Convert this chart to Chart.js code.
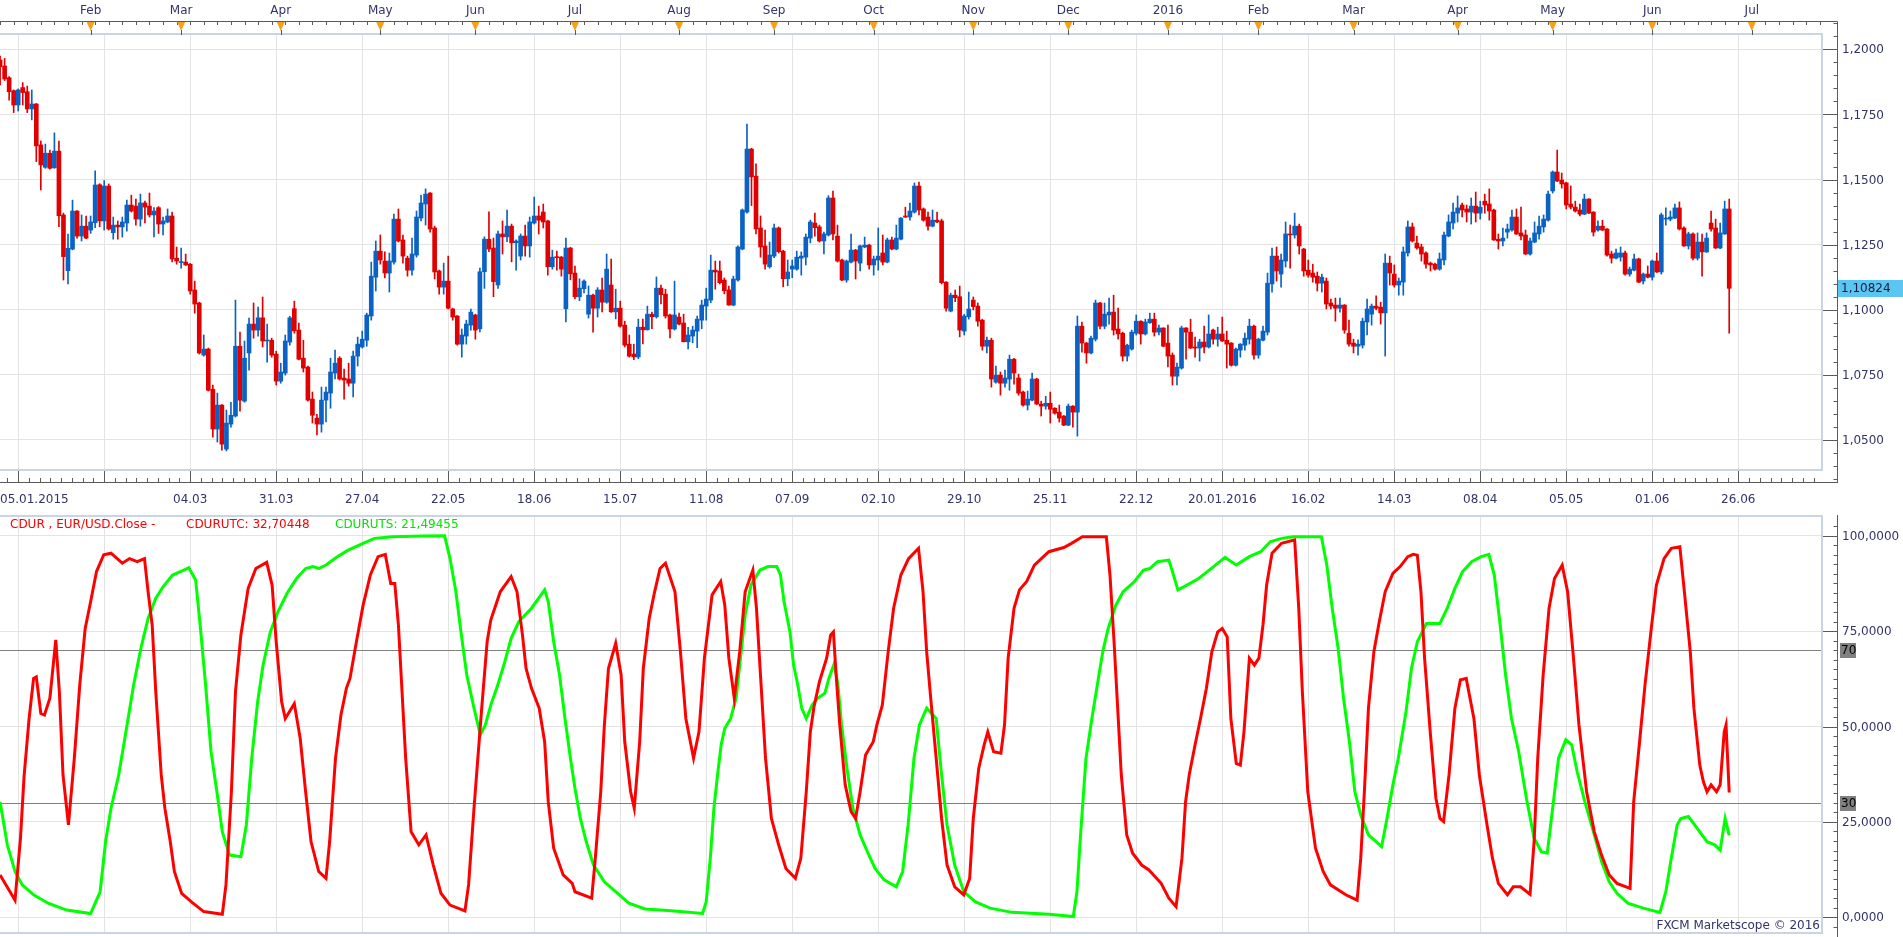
<!DOCTYPE html>
<html>
<head>
<meta charset="utf-8">
<script src="https://cdn.jsdelivr.net/npm/chart.js@4.4.0/dist/chart.umd.min.js"></script>
<style>
  body { margin: 0; background: #fff; overflow: hidden; }
  canvas { position: absolute; left: 0; }
</style>
</head>
<body>
<canvas id="upper" width="1903" height="515" style="top:0"></canvas>
<canvas id="lower" width="1903" height="422" style="top:515px"></canvas>
<script>
// EUR/USD daily candles, 05.01.2015 .. 24.06.2016 (bar index 0..382)
const opens = [
1.1959,1.1936,1.1891,1.1841,1.1786,1.1853,1.1837,1.1771,1.1790,1.1633,
1.1547,1.1601,1.1545,1.1609,1.1364,1.1150,1.1233,1.1379,1.1283,1.1321,
1.1306,1.1334,1.1480,1.1341,1.1475,1.1296,1.1325,1.1318,1.1333,1.1402,
1.1398,1.1348,1.1410,1.1398,1.1364,1.1392,1.1329,1.1337,1.1360,1.1198,
1.1181,1.1183,1.1175,1.1076,1.1026,1.0826,1.0849,1.0695,1.0542,1.0634,
1.0465,1.0561,1.0592,1.0860,1.0649,1.0834,1.0945,1.0922,1.0969,1.0880,
1.0883,1.0830,1.0726,1.0757,1.0876,1.1004,1.0922,1.0814,1.0780,1.0657,
1.0584,1.0561,1.0653,1.0680,1.0757,1.0814,1.0738,1.0734,1.0718,1.0822,
1.0857,1.0883,1.0976,1.1125,1.1225,1.1187,1.1141,1.1183,1.1348,1.1268,
1.1198,1.1152,1.1210,1.1352,1.1406,1.1448,1.1314,1.1149,1.1087,1.1110,
1.1003,1.0976,1.0868,1.0899,1.0941,1.0980,1.0927,1.1146,1.1271,1.1237,
1.1095,1.1291,1.1280,1.1321,1.1257,1.1206,1.1283,1.1245,1.1333,1.1360,
1.1375,1.1341,1.1165,1.1202,1.1202,1.1004,1.1237,1.1141,1.1050,1.1081,
1.0983,1.1056,1.1006,1.1076,1.1029,1.1095,1.0992,1.1006,1.0941,1.0868,
1.0830,1.0819,1.0933,1.0923,1.0983,1.0973,1.1083,1.1060,1.0980,1.0926,
1.0972,1.0949,1.0877,1.0899,1.0918,1.0960,1.1014,1.1037,1.1152,1.1149,
1.1114,1.1076,1.1018,1.1114,1.1233,1.1375,1.1617,1.1513,1.1314,1.1245,
1.1165,1.1206,1.1314,1.1225,1.1119,1.1156,1.1156,1.1198,1.1202,1.1275,
1.1333,1.1318,1.1264,1.1287,1.1429,1.1283,1.1191,1.1114,1.1183,1.1229,
1.1179,1.1241,1.1248,1.1172,1.1191,1.1218,1.1183,1.1268,1.1233,1.1271,
1.1360,1.1356,1.1375,1.1475,1.1387,1.1356,1.1321,1.1344,1.1341,1.1106,
1.0995,1.1056,1.1050,1.0918,1.0973,1.1037,1.1014,1.0960,1.0860,1.0883,
1.0722,1.0749,1.0718,1.0734,1.0810,1.0738,1.0684,1.0634,1.0653,1.0734,
1.0638,1.0630,1.0641,1.0622,1.0607,1.0592,1.0557,1.0630,1.0607,1.0937,
1.0872,1.0834,1.0887,1.1026,1.0937,1.0980,1.0991,1.0926,1.0910,1.0822,
1.0849,1.0910,1.0956,1.0907,1.0950,1.0964,1.0914,1.0930,1.0872,1.0826,
1.0745,1.0776,1.0930,1.0914,1.0857,1.0853,1.0876,1.0857,1.0922,1.0887,
1.0907,1.0883,1.0872,1.0787,1.0845,1.0864,1.0887,1.0937,1.0826,1.0883,
1.0914,1.1099,1.1206,1.1137,1.1187,1.1291,1.1287,1.1321,1.1233,1.1152,
1.1141,1.1129,1.1102,1.1110,1.1026,1.1018,1.1006,1.1018,1.0910,1.0872,
1.0860,1.0864,1.0953,1.0983,1.1014,1.1010,1.0988,1.1179,1.1137,1.1095,
1.1106,1.1218,1.1318,1.1256,1.1241,1.1218,1.1179,1.1175,1.1156,1.1191,
1.1283,1.1333,1.1371,1.1402,1.1387,1.1375,1.1398,1.1371,1.1417,1.1406,
1.1383,1.1271,1.1264,1.1298,1.1306,1.1356,1.1295,1.1287,1.1214,1.1260,
1.1291,1.1318,1.1344,1.1456,1.1529,1.1498,1.1487,1.1406,1.1394,1.1383,
1.1367,1.1425,1.1375,1.1306,1.1321,1.1310,1.1214,1.1198,1.1202,1.1218,
1.1137,1.1152,1.1195,1.1110,1.1137,1.1125,1.1187,1.1145,1.1348,1.1348,
1.1352,1.1391,1.1314,1.1245,1.1291,1.1198,1.1260,1.1222,1.1333,1.1314,
1.1237,1.1291,1.1387];

const highs = [
1.1974,1.1965,1.1895,1.1844,1.1848,1.1872,1.1859,1.1844,1.1792,1.1648,
1.1636,1.1613,1.1679,1.1648,1.1371,1.1291,1.1421,1.1381,1.1364,1.1360,
1.1360,1.1533,1.1484,1.1496,1.1483,1.1356,1.1341,1.1356,1.1421,1.1440,
1.1425,1.1444,1.1417,1.1448,1.1392,1.1396,1.1356,1.1387,1.1375,1.1241,
1.1237,1.1214,1.1178,1.1110,1.1029,1.0903,1.0853,1.0711,1.0680,1.0636,
1.0615,1.0645,1.1037,1.0914,1.0880,1.0968,1.1026,1.1010,1.1049,1.0945,
1.0891,1.0841,1.0795,1.0903,1.0975,1.1033,1.0949,1.0883,1.0784,1.0684,
1.0599,1.0703,1.0703,1.0814,1.0845,1.0820,1.0772,1.0795,1.0841,1.0895,
1.0918,1.0987,1.1183,1.1264,1.1287,1.1222,1.1218,1.1367,1.1387,1.1287,
1.1206,1.1275,1.1379,1.1440,1.1464,1.1450,1.1321,1.1152,1.1179,1.1206,
1.1006,1.0978,1.0926,1.0960,1.1003,1.0983,1.1160,1.1280,1.1376,1.1275,
1.1302,1.1341,1.1383,1.1329,1.1268,1.1291,1.1325,1.1356,1.1433,1.1398,
1.1406,1.1344,1.1229,1.1225,1.1205,1.1275,1.1240,1.1168,1.1119,1.1115,
1.1091,1.1060,1.1085,1.1122,1.1214,1.1195,1.1079,1.1033,1.0956,1.0903,
1.0868,1.0964,1.0964,1.1014,1.0991,1.1126,1.1095,1.1079,1.0983,1.1110,
1.0987,1.0983,1.0933,1.0937,1.0976,1.1037,1.1083,1.1210,1.1187,1.1187,
1.1122,1.1091,1.1129,1.1245,1.1387,1.1713,1.1620,1.1560,1.1360,1.1306,
1.1260,1.1329,1.1318,1.1228,1.1191,1.1191,1.1225,1.1222,1.1291,1.1344,
1.1371,1.1325,1.1298,1.1438,1.1456,1.1325,1.1195,1.1191,1.1291,1.1232,
1.1248,1.1279,1.1252,1.1206,1.1314,1.1287,1.1275,1.1279,1.1325,1.1354,
1.1394,1.1410,1.1487,1.1490,1.1391,1.1375,1.1383,1.1375,1.1348,1.1108,
1.1064,1.1076,1.1091,1.0983,1.1068,1.1049,1.1026,1.0964,1.0895,1.0891,
1.0784,1.0761,1.0768,1.0826,1.0814,1.0753,1.0688,1.0688,1.0757,1.0737,
1.0649,1.0668,1.0684,1.0624,1.0634,1.0594,1.0638,1.0632,1.0976,1.0953,
1.0875,1.0899,1.1037,1.1029,1.1026,1.1045,1.1056,1.1006,1.0914,1.0868,
1.0922,1.0980,1.0958,1.0964,1.0987,1.0987,1.0941,1.0931,1.0941,1.0834,
1.0795,1.0937,1.0932,1.0964,1.0895,1.0887,1.0937,1.0980,1.0926,1.0933,
1.0972,1.0918,1.0874,1.0853,1.0870,1.0910,1.0964,1.0941,1.0891,1.0937,
1.1141,1.1237,1.1241,1.1214,1.1337,1.1325,1.1371,1.1329,1.1236,1.1191,
1.1175,1.1145,1.1137,1.1122,1.1041,1.1045,1.1045,1.1020,1.0960,1.0887,
1.0885,1.0968,1.1041,1.1022,1.1053,1.1029,1.1214,1.1206,1.1172,1.1122,
1.1241,1.1341,1.1333,1.1283,1.1252,1.1222,1.1183,1.1179,1.1218,1.1298,
1.1364,1.1410,1.1437,1.1410,1.1402,1.1429,1.1452,1.1417,1.1444,1.1464,
1.1387,1.1291,1.1314,1.1329,1.1383,1.1387,1.1394,1.1306,1.1275,1.1337,
1.1360,1.1364,1.1456,1.1533,1.1613,1.1525,1.1490,1.1475,1.1417,1.1406,
1.1444,1.1427,1.1377,1.1341,1.1344,1.1312,1.1225,1.1233,1.1241,1.1225,
1.1164,1.1214,1.1198,1.1141,1.1168,1.1191,1.1218,1.1371,1.1391,1.1379,
1.1406,1.1414,1.1318,1.1298,1.1295,1.1295,1.1291,1.1295,1.1379,1.1348,
1.1333,1.1417,1.1425];

const lows = [
1.1863,1.1880,1.1805,1.1757,1.1763,1.1786,1.1757,1.1729,1.1569,1.1460,
1.1543,1.1540,1.1543,1.1319,1.1114,1.1099,1.1230,1.1275,1.1264,1.1273,
1.1293,1.1315,1.1319,1.1306,1.1306,1.1271,1.1271,1.1279,1.1302,1.1375,
1.1325,1.1321,1.1333,1.1356,1.1280,1.1293,1.1287,1.1334,1.1184,1.1175,
1.1160,1.1170,1.1060,1.0987,1.0830,1.0822,1.0688,1.0511,1.0492,1.0461,
1.0458,1.0549,1.0588,1.0611,1.0645,1.0768,1.0891,1.0899,1.0857,1.0799,
1.0818,1.0711,1.0718,1.0749,1.0864,1.0910,1.0807,1.0761,1.0649,1.0565,
1.0519,1.0530,1.0569,1.0622,1.0734,1.0730,1.0657,1.0707,1.0665,1.0784,
1.0853,1.0860,1.0960,1.1072,1.1175,1.1122,1.1068,1.1175,1.1260,1.1179,
1.1129,1.1133,1.1202,1.1341,1.1325,1.1298,1.1118,1.1060,1.1060,1.1003,
1.0960,1.0864,1.0818,1.0868,1.0922,1.0887,1.0915,1.1082,1.1223,1.1050,
1.1082,1.1214,1.1261,1.1184,1.1152,1.1191,1.1206,1.1202,1.1329,1.1291,
1.1314,1.1133,1.1156,1.1152,1.1129,1.0953,1.1115,1.1042,1.1035,1.1065,
1.0968,1.0914,1.0972,1.0992,1.1025,1.0990,1.0965,1.0933,1.0857,1.0818,
1.0808,1.0812,1.0869,1.0922,1.0927,1.0968,1.1022,1.0968,1.0892,1.0922,
1.0942,1.0877,1.0850,1.0873,1.0854,1.0927,1.0960,1.1027,1.1079,1.1099,
1.1061,1.1018,1.1015,1.1110,1.1230,1.1371,1.1400,1.1291,1.1202,1.1156,
1.1160,1.1200,1.1218,1.1088,1.1092,1.1123,1.1152,1.1133,1.1172,1.1257,
1.1283,1.1260,1.1214,1.1283,1.1268,1.1183,1.1112,1.1106,1.1180,1.1118,
1.1149,1.1238,1.1156,1.1133,1.1152,1.1172,1.1180,1.1230,1.1230,1.1268,
1.1354,1.1344,1.1371,1.1364,1.1340,1.1306,1.1318,1.1334,1.1099,1.0995,
1.0992,1.1031,1.0896,1.0903,1.0964,1.0999,1.0937,1.0845,1.0834,1.0703,
1.0718,1.0672,1.0703,1.0691,1.0714,1.0672,1.0630,1.0615,1.0650,1.0636,
1.0592,1.0618,1.0565,1.0599,1.0569,1.0555,1.0555,1.0549,1.0515,1.0837,
1.0795,1.0830,1.0880,1.0926,1.0927,1.0945,1.0903,1.0887,1.0803,1.0803,
1.0845,1.0903,1.0868,1.0903,1.0948,1.0899,1.0903,1.0858,1.0781,1.0711,
1.0711,1.0772,1.0810,1.0851,1.0818,1.0803,1.0834,1.0853,1.0868,1.0860,
1.0878,1.0776,1.0784,1.0784,1.0818,1.0845,1.0868,1.0810,1.0814,1.0880,
1.0903,1.1068,1.1110,1.1087,1.1164,1.1160,1.1275,1.1214,1.1129,1.1125,
1.1106,1.1072,1.1068,1.1003,1.1003,1.0956,1.0991,1.0910,1.0860,1.0834,
1.0826,1.0853,1.0903,1.0941,1.0999,1.0945,1.0822,1.1095,1.1087,1.1056,
1.1056,1.1206,1.1260,1.1233,1.1187,1.1160,1.1149,1.1152,1.1152,1.1172,
1.1280,1.1310,1.1337,1.1356,1.1337,1.1329,1.1337,1.1348,1.1371,1.1344,
1.1266,1.1233,1.1245,1.1275,1.1302,1.1289,1.1268,1.1212,1.1210,1.1257,
1.1271,1.1298,1.1340,1.1448,1.1492,1.1467,1.1387,1.1387,1.1375,1.1360,
1.1365,1.1369,1.1283,1.1302,1.1304,1.1206,1.1179,1.1195,1.1187,1.1133,
1.1129,1.1149,1.1104,1.1099,1.1122,1.1114,1.1143,1.1137,1.1325,1.1341,
1.1350,1.1306,1.1243,1.1233,1.1191,1.1191,1.1129,1.1220,1.1302,1.1235,
1.1235,1.1289,1.0910];

const closes = [
1.1933,1.1886,1.1837,1.1786,1.1844,1.1834,1.1771,1.1790,1.1629,1.1556,
1.1601,1.1543,1.1609,1.1361,1.1204,1.1236,1.1379,1.1283,1.1321,1.1275,
1.1337,1.1479,1.1341,1.1475,1.1310,1.1325,1.1318,1.1337,1.1402,1.1379,
1.1348,1.1410,1.1394,1.1364,1.1379,1.1329,1.1341,1.1360,1.1195,1.1187,
1.1184,1.1172,1.1072,1.1022,1.0834,1.0849,1.0691,1.0542,1.0634,1.0484,
1.0565,1.0595,1.0860,1.0653,1.0814,1.0945,1.0922,1.0969,1.0880,1.0883,
1.0826,1.0726,1.0761,1.0880,1.0969,1.0919,1.0810,1.0776,1.0653,1.0595,
1.0561,1.0653,1.0684,1.0761,1.0795,1.0734,1.0730,1.0718,1.0822,1.0868,
1.0887,1.0980,1.1129,1.1225,1.1191,1.1141,1.1187,1.1348,1.1264,1.1206,
1.1152,1.1214,1.1356,1.1410,1.1444,1.1310,1.1145,1.1087,1.1110,1.1006,
1.0972,1.0868,1.0903,1.0945,1.0991,1.0922,1.1146,1.1271,1.1233,1.1108,
1.1291,1.1280,1.1321,1.1257,1.1264,1.1283,1.1245,1.1337,1.1360,1.1344,
1.1337,1.1165,1.1202,1.1200,1.1156,1.1237,1.1138,1.1050,1.1083,1.1110,
1.1056,1.1006,1.1076,1.1029,1.1156,1.0992,1.1006,1.0937,1.0864,1.0822,
1.0819,1.0933,1.0923,1.0983,1.0973,1.1083,1.1058,1.0976,1.0926,1.0980,
1.0945,1.0877,1.0903,1.0922,1.0964,1.1018,1.1041,1.1152,1.1145,1.1104,
1.1073,1.1018,1.1118,1.1241,1.1383,1.1617,1.1510,1.1310,1.1241,1.1175,
1.1210,1.1314,1.1223,1.1119,1.1145,1.1168,1.1202,1.1206,1.1279,1.1337,
1.1315,1.1264,1.1291,1.1429,1.1291,1.1187,1.1114,1.1187,1.1229,1.1187,
1.1245,1.1248,1.1172,1.1195,1.1206,1.1183,1.1268,1.1233,1.1275,1.1352,
1.1356,1.1379,1.1475,1.1383,1.1344,1.1321,1.1344,1.1337,1.1104,1.1006,
1.1056,1.1046,1.0922,1.0976,1.1003,1.1012,1.0956,1.0860,1.0883,1.0734,
1.0749,1.0718,1.0738,1.0810,1.0757,1.0680,1.0634,1.0657,1.0734,1.0638,
1.0630,1.0641,1.0618,1.0603,1.0584,1.0557,1.0630,1.0607,1.0937,1.0872,
1.0834,1.0891,1.1026,1.0937,1.0983,1.0991,1.0922,1.0907,1.0822,1.0864,
1.0914,1.0956,1.0907,1.0953,1.0964,1.0914,1.0930,1.0860,1.0822,1.0745,
1.0780,1.0930,1.0914,1.0853,1.0853,1.0876,1.0857,1.0907,1.0887,1.0907,
1.0880,1.0868,1.0787,1.0849,1.0868,1.0891,1.0937,1.0826,1.0887,1.0918,
1.1102,1.1206,1.1149,1.1191,1.1291,1.1287,1.1321,1.1245,1.1149,1.1133,
1.1125,1.1102,1.1125,1.1022,1.1014,1.1006,1.1018,1.0922,1.0868,1.0860,
1.0868,1.0956,1.1003,1.1014,1.1006,1.0988,1.1179,1.1141,1.1095,1.1110,
1.1222,1.1318,1.1264,1.1237,1.1214,1.1175,1.1172,1.1156,1.1195,1.1287,
1.1337,1.1375,1.1391,1.1383,1.1375,1.1398,1.1371,1.1394,1.1402,1.1379,
1.1268,1.1264,1.1275,1.1310,1.1356,1.1291,1.1283,1.1214,1.1264,1.1295,
1.1321,1.1348,1.1444,1.1529,1.1494,1.1483,1.1402,1.1394,1.1379,1.1367,
1.1425,1.1371,1.1298,1.1321,1.1306,1.1210,1.1198,1.1218,1.1218,1.1137,
1.1156,1.1195,1.1106,1.1137,1.1125,1.1187,1.1145,1.1364,1.1352,1.1356,
1.1391,1.1310,1.1245,1.1291,1.1198,1.1260,1.1222,1.1275,1.1310,1.1237,
1.1295,1.1387,1.10824];

// CDUR indicator lines: [bar index, value]
const cdurUtc = [
[0,11.1],[3.3,4.5],[4.5,20.7],[5.3,37],[6.4,52],[7.4,62.6],[8,63],[9,53.4],[9.8,53],[11,57.4],
[12.3,72.7],[13.1,59],[13.9,37.3],[15.1,24.2],[16.4,41.7],[17.6,60.9],[18.8,75.7],[20,82.7],[21.3,90.6],[22.9,95],
[24.5,95.4],[27,92.8],[28.6,94],[30.3,93.2],[31.9,94],[32.7,85.3],[33.6,76.6],[34.4,59],[35.6,37.3],[36.4,28.6],
[37.6,19.8],[38.5,12],[40.1,6.3],[42.6,3.7],[45,1.5],[49.1,0.8],[49.9,8.5],[51.1,32.9],[52,59.1],[53.2,74],
[54.8,86.2],[56.5,91.4],[58.9,93],[60.1,87],[61,72.2],[62.2,56.5],[63,52.1],[65,56],[66.3,46.9],[67.5,32.9],
[68.7,19.8],[70.4,12],[72,10.2],[72.8,19.8],[74.1,41.7],[75.3,53],[76.5,60],[77.3,62.6],[78.6,71.4],[80.2,81.8],
[81.8,89.7],[83.5,94.5],[85.1,95.1],[86.3,87.5],[87.2,87.5],[88,76.6],[88.8,59.1],[89.6,41.7],[90.8,22.4],[92.5,19],
[94.1,21.6],[95.7,13.7],[97.4,6.3],[99.4,3.2],[102.7,1.7],[103.5,8.5],[104.7,28.6],[106.4,54.8],[107.6,72.2],[108.4,77.9],
[110.5,85.3],[112.9,89.3],[114.2,85.3],[115.4,74],[116.2,65.2],[117.4,60],[119.1,54.8],[120.3,46],[121.1,30.3],[122.3,18.1],
[124.4,11.1],[126.4,8.9],[127,6.7],[130.7,5],[131.5,15.5],[132.7,32.9],[133.5,50.4],[134.4,65.2],[136,71.8],[137.2,63.5],
[138,46],[139.3,32.9],[140.1,28.6],[141.3,46],[142.1,65.2],[143.4,78.3],[144.6,85.3],[145.8,91.4],[147,92.8],[149.1,85.3],
[150.3,69.6],[151.5,52.1],[153.2,41.7],[154.4,48.6],[155.6,67.9],[157.3,84.5],[159.2,88],[160.1,81.8],[161,67.9],[162.2,57.4],
[163.4,69.6],[164.6,85.3],[166.3,91],[167.1,81],[167.9,65.2],[169.1,41.7],[170.4,25.9],[172,19],[173.6,12.8],[175.7,10.2],
[176.9,15.5],[178.1,32.9],[179,48.6],[179.8,55.1],[181,61.7],[182.6,67.9],[183.5,74],[184.1,74.8],[184.7,63.5],[185.5,50.4],
[186.7,34.7],[188,27.7],[189,25.9],[190,32.9],[191.2,42.5],[192.9,46],[193.7,50.4],[194.9,55.6],[196.2,69.6],[197.4,81],
[199,89.7],[200.7,94],[202.9,96.7],[203.9,85.3],[204.7,69.6],[205.6,57.4],[206.8,41.7],[208,25.9],[209.2,13.7],[210.9,8],
[212.9,5.9],[214.2,10.2],[215,25.9],[216.2,39],[217.4,45.2],[218.2,48.6],[219.5,43.4],[221.1,43],[221.9,50.4],[222.7,67.9],
[224,81],[225.2,85.8],[226.8,88],[228.5,92.3],[231.7,95.8],[235,96.9],[236.7,98],[239.1,99.7],[244.4,99.7],[245.2,89.7],
[246.1,72.2],[246.9,54.8],[247.7,37.3],[248.9,21.6],[250.2,16.8],[252.2,13.7],[253.8,12.4],[256.5,8.9],[258.2,5],[259.8,2.8],
[261.1,15.5],[261.9,30.3],[262.7,37.3],[264,45.2],[265.2,52.1],[266.5,60],[267.7,69.6],[269,74.8],[270,75.7],[271.1,73.5],
[271.9,52.1],[273.1,40.3],[274,39.9],[274.8,48.6],[276,67.9],[277.1,66.1],[278.1,67.9],[279,76.6],[279.8,87],[281,95.4],
[283.1,98],[286,98.9],[286.9,81],[287.7,59.1],[288.9,32.9],[290.6,18.1],[292.3,12],[293.9,8.5],[297.3,5.9],[299.8,4.5],
[300.6,15.5],[301.4,32.9],[302.3,54.8],[303.5,69.6],[304.7,77.5],[306,85.3],[307.7,90.1],[309.3,91.9],[311,94.5],[312.2,95.1],
[313.1,94.9],[313.9,85.3],[314.7,67.9],[316,47.8],[317.2,31.2],[318.1,25.9],[318.9,25.1],[320.1,37.3],[321.4,54.8],[322.6,62.2],
[323.9,62.6],[325.6,52.1],[326.8,37.3],[328.5,24.2],[329.7,15.5],[331,8.9],[333,5.9],[334.3,8],[335.9,8],[338,6],
[338.9,19.8],[339.7,41.7],[340.9,63.5],[342.2,81],[343.4,88.8],[345.1,92.3],[346.3,85.3],[347.6,67.9],[348.8,50.4],[350.5,32.9],
[352.2,22.4],[353.8,16.3],[355.5,11.1],[357.2,8.9],[360.1,7.6],[360.9,30.3],[362.2,46],[363.4,60.9],[364.7,74.8],[365.9,87],
[367.6,94],[369.2,96.7],[371.1,97.1],[372.1,85.3],[373.4,69.6],[374.2,54.8],[375.5,39.9],[376.3,35.5],[377.1,32.9],[378,34.7],
[379.2,32.9],[380,34.7],[380.9,48.6],[381.3,50.4],[382,32.70448]];

const cdurUts = [
[0,30.3],[1.6,19],[3.3,12],[4.9,8.5],[7.4,5.9],[10.6,3.7],[14.7,1.9],[20,1],[22.1,6.7],[23.3,19.8],
[24.5,28.6],[26.2,37.3],[27.8,48.6],[29.5,60.9],[31.1,70.5],[32.7,78.3],[34.4,83.6],[36,86.6],[38.1,89.7],[40.1,90.7],
[41.7,91.6],[43.2,88.4],[44.2,76.6],[45.4,60.9],[46.6,43.4],[47.9,32.9],[49.1,22.4],[50.7,16.3],[53.2,15.9],[54.4,24.2],
[55.6,41.7],[56.9,56.5],[58.1,66.1],[59.7,74.8],[61.4,80.1],[63.4,84.9],[65.5,88.8],[67.5,91.4],[69.1,91.9],[70.4,91.4],
[72,92.3],[74.5,94.5],[76.9,96.2],[80.2,98],[82.7,99.3],[86.7,99.7],[93.3,99.9],[98.2,100],[99.4,94],[100.7,85.3],
[101.9,74],[103.1,63.5],[104.7,54.8],[106.1,47.8],[107.2,50.4],[108.4,55.6],[109.7,60],[111.3,66.1],[112.9,73.1],[114.6,77.5],
[117.4,81],[120.3,85.8],[121.1,82.7],[122.3,72.2],[123.6,63.5],[124.8,52.1],[126,41.7],[127,33.8],[128.2,25.9],[129.5,19.8],
[131.1,13.7],[133.5,9.3],[136,6.7],[138.9,3.7],[142.5,2.2],[148.3,1.7],[155.2,1],[156,4.1],[156.9,15.5],[157.7,28.6],
[158.5,37.3],[159.3,45.2],[160.1,49.5],[161.4,52.1],[162.6,57.4],[163.4,66.1],[164.6,79.2],[165.9,87.1],[167.9,91],[169.6,91.9],
[171.6,91.9],[172.4,89.7],[173.2,82.7],[174.5,74.8],[175.3,66.1],[176.1,61.7],[177.1,54.8],[178.1,52.1],[179.4,55.6],[180.6,57.4],
[182.2,58.7],[183.1,62.6],[184.3,66.6],[185.1,60.9],[185.9,50.4],[187.1,39],[188.4,28.6],[190,21.6],[191.6,17.2],[193.3,12.8],
[195.3,9.8],[198,8],[199.4,12],[200.6,24.2],[201.9,41.7],[203.1,50.4],[204.7,54.8],[206.8,52.1],[208,37.3],[209.2,24.2],
[210.9,13.7],[212.9,6.7],[215.4,4.1],[218.7,2.4],[223.6,1.3],[231.7,0.8],[237.1,0.2],[237.9,6.7],[238.7,21.6],[239.9,41.7],
[241.2,52.1],[242.4,60.9],[243.6,69.6],[244.8,75.7],[246.5,81.8],[248.1,85.3],[250.6,88],[252.6,91],[254,91.4],[255.7,93.2],
[258.2,93.6],[259,90.6],[260.2,85.8],[261.5,86.6],[264.8,88.8],[268.1,91.9],[270.6,94.3],[273.1,92.3],[276,94.5],[278.5,95.8],
[280.6,98.4],[283.1,99.3],[285.6,99.7],[291.9,99.7],[293.1,92.3],[294.3,81],[295.6,70.5],[296.8,57.4],[298.1,46],[299.3,32.9],
[300.6,26.8],[302.3,21.6],[305.2,18.5],[306.4,25.9],[307.7,34.7],[308.9,41.7],[310.6,53.9],[311.8,65.2],[313.1,72.2],[315.1,77],
[318.1,77],[319.7,81],[321.4,86.2],[323.1,90.6],[325.1,93.2],[327.2,94.5],[328.9,95.1],[330.1,89.7],[331.4,76.6],[332.6,63.5],
[333.9,52.1],[335.5,43.4],[337.2,31.2],[338.9,20.7],[340.5,17.2],[341.8,16.8],[343,28.6],[344.3,41.7],[345.9,46.5],[347.2,45.2],
[348.4,38.2],[350.1,30.3],[352.2,21.6],[353.8,14.6],[355.5,9.3],[357.2,6.3],[359.6,3.7],[363,2.4],[366.7,1.3],[368,6.7],
[369.2,15.5],[370.5,24.2],[371.3,25.9],[373,26.4],[375.5,22.4],[377.1,19.8],[378.8,19],[380,17.6],[381.1,25.9],[382,21.49455]];

// axes
const monthIdx = [20, 40, 62, 84, 105, 127, 150, 171, 193, 215, 236, 258, 278, 299, 322, 343, 365, 387];
const monthLabels = ['Feb','Mar','Apr','May','Jun','Jul','Aug','Sep','Oct','Nov','Dec','2016','Feb','Mar','Apr','May','Jun','Jul'];
const gridIdx = [4, 23, 42, 61, 80, 99, 118, 137, 156, 175, 194, 213, 232, 251, 270, 289, 308, 327, 346, 365, 384];
const dateLabels = ['', '', '04.03', '31.03', '27.04', '22.05', '18.06', '15.07', '11.08', '07.09', '02.10',
                    '29.10', '25.11', '22.12', '20.01.2016', '16.02', '14.03', '08.04', '05.05', '01.06', '26.06'];
const firstDate = '05.01.2015';
const priceTicks = [1.05, 1.075, 1.1, 1.125, 1.15, 1.175, 1.2];
const oscTicks = [0, 25, 50, 75, 100];
const oscLevels = [70, 30];

const FONT = '12px "DejaVu Sans", Verdana, sans-serif';
const TEXT = '#33336b';
const AXIS = '#5a5a5a';
const PANEL = '#c9d5e2';
const GRID = '#e3e3e3';
const RED = '#e00000';
const BLUE = '#0a62c4';
const AX = 1837.5;          // right axis line
const X_MIN = -0.02, X_MAX = 402.5;

const n = closes.length;
const idx = [...Array(n).keys()];
const candleColors = idx.map(i => closes[i] >= opens[i] ? BLUE : RED);

function hline(ctx, x1, x2, y) { ctx.beginPath(); ctx.moveTo(x1, y); ctx.lineTo(x2, y); ctx.stroke(); }
function vline(ctx, x, y1, y2) { ctx.beginPath(); ctx.moveTo(x, y1); ctx.lineTo(x, y2); ctx.stroke(); }
function comma(v, d) { return v.toFixed(d).replace('.', ','); }
function crisp(v) { return Math.round(v) + 0.5; }

function xScaleOpts() {
    return {
        type: 'linear', min: X_MIN, max: X_MAX, offset: false,
        grid: { offset: false, color: GRID, drawTicks: false },
        border: { display: false },
        ticks: { display: false },
        afterBuildTicks: s => { s.ticks = gridIdx.map(v => ({ value: v })); },
        afterFit: s => { s.height = 0; }
    };
}

// upper panel decorations: frame, month bar, date axis, price axis
const upperDeco = {
    id: 'upperDeco',
    afterDraw(chart) {
        const { ctx, chartArea: a, scales: { x, y } } = chart;
        ctx.save();
        ctx.strokeStyle = PANEL; ctx.lineWidth = 2;
        hline(ctx, 0, a.right + 1, a.top);
        hline(ctx, 0, a.right + 1, a.bottom);
        vline(ctx, a.right, a.top, a.bottom);

        ctx.strokeStyle = AXIS; ctx.lineWidth = 1;
        hline(ctx, 0, AX, 21.5);
        vline(ctx, AX, 21.5, 483);
        hline(ctx, 0, AX, 482.5);

        // top month bar
        for (let i = 0; i <= X_MAX; i += 3) vline(ctx, crisp(x.getPixelForValue(i)), 21.5, 25);
        ctx.font = FONT; ctx.textAlign = 'center'; ctx.textBaseline = 'middle';
        monthIdx.forEach((m, k) => {
            const px = x.getPixelForValue(m);
            if (px > a.right) return;
            ctx.fillStyle = '#f5a11c';
            ctx.beginPath(); ctx.moveTo(px - 4, 22); ctx.lineTo(px + 4, 22); ctx.lineTo(px, 31); ctx.closePath(); ctx.fill();
            vline(ctx, crisp(px), 30, 35);
            ctx.fillStyle = TEXT;
            ctx.fillText(monthLabels[k], px, 11);
        });

        // bottom date axis
        const step = 19 / 8;
        gridIdx.forEach((g, k) => {
            const px = crisp(x.getPixelForValue(g));
            vline(ctx, px, a.bottom + 1, 482.5);
            for (let j = -7; j <= 7; j++) {
                if (j === 0) continue;
                const v = g + j * step;
                if (v < X_MIN || v > X_MAX || (j < 0 && k > 0)) continue;
                vline(ctx, crisp(x.getPixelForValue(v)), 478, 482.5);
            }
            if (dateLabels[k]) { ctx.fillStyle = TEXT; ctx.fillText(dateLabels[k], x.getPixelForValue(g), 500); }
        });
        ctx.textAlign = 'left';
        ctx.fillText(firstDate, 0, 500);

        // right price axis
        for (let k = 207; k <= 242; k++) {
            const py = y.getPixelForValue(k * 0.005);
            if (py < 22 || py > 482) continue;
            hline(ctx, AX - 4, AX, crisp(py));
        }
        priceTicks.forEach(v => {
            const py = y.getPixelForValue(v);
            hline(ctx, a.right + 1, AX, crisp(py));
            ctx.fillStyle = TEXT;
            ctx.fillText(comma(v, 4), 1842, py + 1);
        });

        // last quote marker
        const last = closes[n - 1];
        const py = y.getPixelForValue(last);
        ctx.fillStyle = '#5cc6f2';
        ctx.fillRect(1838, Math.round(py) - 8, 65, 17);
        ctx.fillStyle = '#1a1a3a';
        ctx.fillText(comma(last, 5), 1841, py + 1);
        ctx.restore();
    }
};

new Chart(document.getElementById('upper'), {
    type: 'bar',
    data: {
        datasets: [
            { label: 'body', data: idx.map(i => ({ x: i, y: [opens[i], closes[i]] })),
              backgroundColor: candleColors, barThickness: 4, minBarLength: 1, grouped: false, order: 0 },
            { label: 'wick', data: idx.map(i => ({ x: i, y: [lows[i], highs[i]] })),
              backgroundColor: candleColors, barThickness: 1, grouped: false, order: 1 }
        ]
    },
    options: {
        responsive: false, animation: false, devicePixelRatio: 1,
        layout: { padding: { top: 34, bottom: 45, left: 0, right: 0 } },
        plugins: { legend: { display: false }, tooltip: { enabled: false } },
        scales: {
            x: xScaleOpts(),
            y: {
                position: 'right', min: 1.03848, max: 1.20587,
                grid: { color: GRID, drawTicks: false },
                border: { display: false },
                ticks: { display: false },
                afterBuildTicks: s => { s.ticks = priceTicks.map(v => ({ value: v })); },
                afterFit: s => { s.width = 81; }
            }
        }
    },
    plugins: [upperDeco]
});

// lower panel decorations
const lowerDeco = {
    id: 'lowerDeco',
    beforeDatasetsDraw(chart) {
        const { ctx, chartArea: a, scales: { y } } = chart;
        ctx.save();
        ctx.strokeStyle = '#808080'; ctx.lineWidth = 1;
        oscLevels.forEach(v => hline(ctx, 0, a.right, crisp(y.getPixelForValue(v))));
        ctx.restore();
    },
    afterDraw(chart) {
        const { ctx, chartArea: a, scales: { y } } = chart;
        const H = chart.height;
        ctx.save();
        ctx.strokeStyle = PANEL; ctx.lineWidth = 2;
        hline(ctx, 0, a.right + 1, 1);
        hline(ctx, 0, a.right + 1, a.bottom);
        vline(ctx, a.right, 0, a.bottom);

        ctx.strokeStyle = AXIS; ctx.lineWidth = 1;
        vline(ctx, AX, 0, H);
        for (let v = -2.5; v <= 105; v += 2.5) {
            const py = y.getPixelForValue(v);
            if (py < 2 || py > a.bottom) continue;
            hline(ctx, AX - 4, AX, crisp(py));
        }
        ctx.font = FONT; ctx.textAlign = 'left'; ctx.textBaseline = 'middle';
        oscTicks.forEach(v => {
            const py = y.getPixelForValue(v);
            hline(ctx, a.right + 1, AX, crisp(py));
            ctx.fillStyle = TEXT;
            ctx.fillText(comma(v, 4), 1842, py + 1);
        });
        oscLevels.forEach(v => {
            const py = y.getPixelForValue(v);
            ctx.fillStyle = '#808080';
            ctx.fillRect(1840, Math.round(py) - 7, 16, 15);
            ctx.fillStyle = '#000';
            ctx.fillText(String(v), 1841, py + 1);
        });

        // legend line
        ctx.fillStyle = '#ff0000';
        ctx.fillText('CDUR , EUR/USD.Close -', 10, 10);
        ctx.fillText('CDURUTC: ' + comma(cdurUtc[cdurUtc.length - 1][1], 5), 186, 10);
        ctx.fillStyle = '#00e600';
        ctx.fillText('CDURUTS: ' + comma(cdurUts[cdurUts.length - 1][1], 5), 335, 10);

        ctx.fillStyle = TEXT; ctx.textAlign = 'right';
        ctx.fillText('FXCM Marketscope \u00a9 2016', a.right - 2, 411);
        ctx.restore();
    }
};

new Chart(document.getElementById('lower'), {
    type: 'line',
    data: {
        datasets: [
            { label: 'CDURUTC', data: cdurUtc.map(p => ({ x: p[0], y: p[1] })),
              borderColor: '#ff0000', borderWidth: 3, pointRadius: 0, tension: 0, order: 0 },
            { label: 'CDURUTS', data: cdurUts.map(p => ({ x: p[0], y: p[1] })),
              borderColor: '#00ff00', borderWidth: 3, pointRadius: 0, tension: 0, order: 1 }
        ]
    },
    options: {
        responsive: false, animation: false, devicePixelRatio: 1,
        layout: { padding: { top: 1, bottom: 4, left: 0, right: 0 } },
        plugins: { legend: { display: false }, tooltip: { enabled: false } },
        scales: {
            x: xScaleOpts(),
            y: {
                position: 'right', min: -4.11, max: 105.16,
                grid: { color: GRID, drawTicks: false },
                border: { display: false },
                ticks: { display: false },
                afterBuildTicks: s => { s.ticks = oscTicks.map(v => ({ value: v })); },
                afterFit: s => { s.width = 81; }
            }
        }
    },
    plugins: [lowerDeco]
});
</script>
</body>
</html>
